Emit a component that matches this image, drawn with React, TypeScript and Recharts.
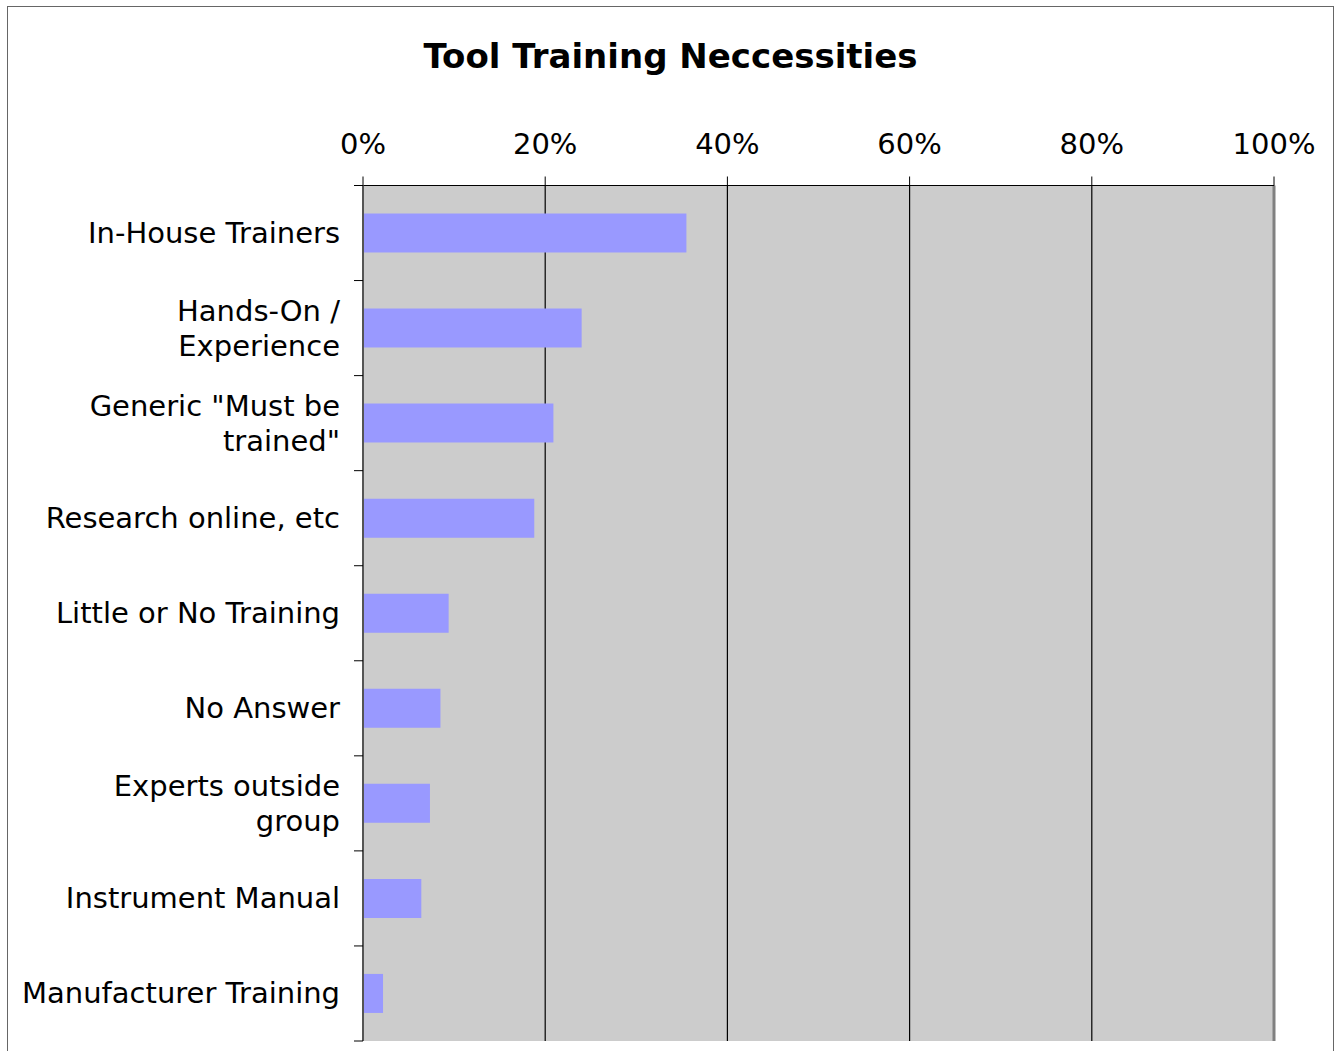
import React from 'react';
import {
  BarChart,
  Bar,
  XAxis,
  YAxis,
  CartesianGrid,
  ReferenceLine,
} from 'recharts';

// Tool training answers, share of respondents (%)
const CATEGORIES = [
  'In-House Trainers',
  'Hands-On /\nExperience',
  'Generic "Must be\ntrained"',
  'Research online, etc',
  'Little or No Training',
  'No Answer',
  'Experts outside\ngroup',
  'Instrument Manual',
  'Manufacturer Training',
];
const SHARES = [35.5, 24.0, 20.9, 18.8, 9.4, 8.5, 7.35, 6.4, 2.2];
const X_TICKS = [0, 20, 40, 60, 80, 100];

const data = CATEGORIES.map((name, i) => ({ name, share: SHARES[i] }));

const FONT = '"DejaVu Sans", Verdana, sans-serif';
const W = 1335;
const H = 1051;
const PLOT_LEFT = 363;
const PLOT_TOP = 185.5;
const PLOT_BOTTOM = 1041;
const BAND = (PLOT_BOTTOM - PLOT_TOP) / CATEGORIES.length;

const CategoryTick = (props: any) => {
  const { y, payload, index } = props;
  const lines = String(payload.value).split('\n');
  const lh = 35;
  const first = y - ((lines.length - 1) * lh) / 2;
  return (
    <g>
      <line x1={PLOT_LEFT - 9} x2={PLOT_LEFT} y1={y - BAND / 2} y2={y - BAND / 2} stroke="#000" />
      {index === CATEGORIES.length - 1 && (
        <line x1={PLOT_LEFT - 9} x2={PLOT_LEFT} y1={y + BAND / 2} y2={y + BAND / 2} stroke="#000" />
      )}
      <text
        x={340}
        y={first}
        textAnchor="end"
        dominantBaseline="central"
        fontSize={29}
        fontFamily={FONT}
        fill="#000"
      >
        {lines.map((l, i) => (
          <tspan key={i} x={340} y={first + i * lh} dominantBaseline="central">
            {l}
          </tspan>
        ))}
      </text>
    </g>
  );
};

export default function App() {
  return (
    <div
      style={{
        position: 'absolute',
        left: 0,
        top: 0,
        width: W,
        height: H,
        overflow: 'hidden',
        background: '#fff',
      }}
    >
      <div
        style={{
          position: 'absolute',
          left: 7,
          top: 6,
          width: 1325,
          height: 1100,
          border: '1px solid #666',
        }}
      />
      <div
        style={{
          position: 'absolute',
          left: 0,
          top: 36,
          width: 1341,
          textAlign: 'center',
          fontFamily: FONT,
          fontWeight: 'bold',
          fontSize: 34,
          color: '#000',
        }}
      >
        Tool Training Neccessities
      </div>
      <div style={{ position: 'absolute', left: 0, top: 0 }}>
        <BarChart
          width={W}
          height={H}
          data={data}
          layout="vertical"
          margin={{ top: PLOT_TOP - 60, right: W - 1274, bottom: H - PLOT_BOTTOM, left: 0 }}
        >
          <CartesianGrid horizontal={false} stroke="#000" strokeOpacity={1} strokeWidth={1.2} fill="#cccccc" />
          <XAxis
            type="number"
            orientation="top"
            domain={[0, 100]}
            ticks={X_TICKS}
            tickFormatter={(v) => `${v}%`}
            height={60}
            tickSize={9}
            tickMargin={23}
            axisLine={{ stroke: '#000' }}
            tickLine={{ stroke: '#000' }}
            tick={{ fill: '#000', fontSize: 29, fontFamily: FONT }}
            interval={0}
          />
          <XAxis
            xAxisId="bottom"
            type="number"
            orientation="bottom"
            domain={[0, 100]}
            height={0}
            tick={false}
            tickLine={false}
            axisLine={{ stroke: '#808080', strokeWidth: 3 }}
          />
          <YAxis
            type="category"
            dataKey="name"
            width={PLOT_LEFT}
            tickLine={false}
            axisLine={{ stroke: '#555', strokeWidth: 2 }}
            tick={<CategoryTick />}
            interval={0}
          />
          <Bar dataKey="share" fill="#9999ff" barSize={39} isAnimationActive={false} />
          <ReferenceLine x={100} stroke="#808080" strokeWidth={3} />
        </BarChart>
      </div>
    </div>
  );
}
